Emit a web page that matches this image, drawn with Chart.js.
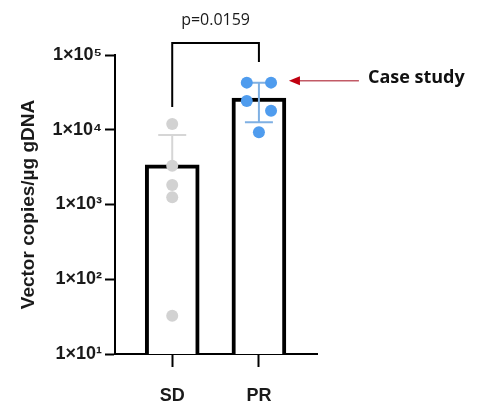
<!DOCTYPE html>
<html>
<head>
<meta charset="utf-8">
<script src="https://cdn.jsdelivr.net/npm/chart.js@4.4.1/dist/chart.umd.min.js"></script>
<style>
  html,body{margin:0;padding:0;background:#fff;}
  #wrap{position:relative;width:481px;height:407px;}
</style>
</head>
<body>
<div id="wrap"><canvas id="c"></canvas></div>
<script>
// ── Data ──────────────────────────────────────────────────────────────────
const groups      = ['SD', 'PR'];
const barMeans    = [3400, 26500];
const errHigh     = [8500, 42700];
const errLow      = [null, 12600];
const sdPoints    = [11900, 3300, 1820, 1250, 32.5];
const prPoints    = [42700, 42700, 24300, 18000, 9250];
const prJitter    = [-0.14, 0.14, -0.14, 0.14, 0];
const yTicks      = [10, 100, 1000, 10000, 100000];
const yTickLabels = ['1×10¹', '1×10²', '1×10³', '1×10⁴', '1×10⁵'];
const yTitle      = 'Vector copies/µg gDNA';
const pText       = 'p=0.0159';
const bracketTop  = 145000;   // bracket ends, in y units
const bracketLeft = 20100;
const bracketRight= 80500;
const noteText    = 'Case study';
const noteValue   = 42700;

// ── Style ─────────────────────────────────────────────────────────────────
const AX_FONT  = '"Liberation Sans", Arial, sans-serif';
const ERR_COL  = ['#D6D6D6', '#7FB0E3'];
const PT_COL   = ['#D2D2D2', '#4F9CEE'];

// ── Plugins ───────────────────────────────────────────────────────────────
const errorBars = {
  id: 'errorBars',
  afterDatasetDraw(chart, args) {
    if (args.index !== 0) return;
    const {ctx, scales: {x, y}} = chart;
    ctx.save();
    ctx.lineWidth = 2;
    groups.forEach((g, i) => {
      const px = x.getPixelForValue(i);
      const top = y.getPixelForValue(errHigh[i]);
      const bot = y.getPixelForValue(errLow[i] ?? barMeans[i]);
      ctx.strokeStyle = ERR_COL[i];
      ctx.beginPath();
      ctx.moveTo(px, bot); ctx.lineTo(px, top);
      ctx.moveTo(px - 14, top); ctx.lineTo(px + 14, top);
      if (errLow[i] != null) { ctx.moveTo(px - 14, bot); ctx.lineTo(px + 14, bot); }
      ctx.stroke();
    });
    ctx.restore();
  }
};

const notes = {
  id: 'notes',
  afterDraw(chart) {
    const {ctx, scales: {x, y}} = chart;
    const xL = x.getPixelForValue(0), xR = x.getPixelForValue(1);
    const yT = y.getPixelForValue(bracketTop);
    ctx.save();
    // significance bracket
    ctx.strokeStyle = '#000'; ctx.lineWidth = 2;
    ctx.beginPath();
    ctx.moveTo(xL, y.getPixelForValue(bracketLeft));
    ctx.lineTo(xL, yT); ctx.lineTo(xR, yT);
    ctx.lineTo(xR, y.getPixelForValue(bracketRight));
    ctx.stroke();
    ctx.fillStyle = '#1a1a1a';
    ctx.font = '16px "Open Sans", sans-serif';
    ctx.textAlign = 'center'; ctx.textBaseline = 'alphabetic';
    ctx.fillText(pText, (xL + xR) / 2, yT - 18);
    // arrow to case study
    const ay = y.getPixelForValue(noteValue) - 2;
    ctx.strokeStyle = '#C25A66'; ctx.lineWidth = 1.5;
    ctx.beginPath(); ctx.moveTo(xR + 100, ay); ctx.lineTo(xR + 38, ay); ctx.stroke();
    ctx.fillStyle = '#C00010';
    ctx.beginPath();
    ctx.moveTo(xR + 30, ay); ctx.lineTo(xR + 41, ay - 4.5); ctx.lineTo(xR + 41, ay + 4.5);
    ctx.closePath(); ctx.fill();
    ctx.fillStyle = '#111';
    ctx.font = 'bold 18px "Open Sans", sans-serif';
    ctx.textAlign = 'left';
    ctx.fillText(noteText, xR + 109, ay + 2);
    ctx.restore();
  }
};

// ── Chart ─────────────────────────────────────────────────────────────────
new Chart(document.getElementById('c'), {
  type: 'bar',
  data: {
    datasets: [
      { type: 'bar', order: 3,
        data: barMeans.map((v, i) => ({x: i, y: v})),
        backgroundColor: '#fff', borderColor: '#000', borderWidth: 4,
        barThickness: 54 },
      { type: 'scatter', order: 2, clip: false,
        data: sdPoints.map(v => ({x: 0, y: v})),
        pointRadius: 6, pointBackgroundColor: PT_COL[0], pointBorderWidth: 0 },
      { type: 'scatter', order: 1, clip: false,
        data: prPoints.map((v, i) => ({x: 1 + prJitter[i], y: v})),
        pointRadius: 6, pointBackgroundColor: PT_COL[1], pointBorderWidth: 0 }
    ]
  },
  options: {
    responsive: true, maintainAspectRatio: false, animation: false,
    layout: { padding: { top: 55, right: 164, left: 0, bottom: 0 } },
    plugins: { legend: {display: false}, tooltip: {enabled: false} },
    scales: {
      x: {
        type: 'linear', min: -0.66, max: 1.67, bounds: 'data', offset: false,
        afterBuildTicks: s => { s.ticks = groups.map((g, i) => ({value: i})); },
        afterFit: s => { s.height = 53; },
        border: {color: '#000', width: 2},
        grid: {drawOnChartArea: false, offset: false, color: '#000', tickLength: 13, tickWidth: 2},
        ticks: { color: '#1a1a1a', padding: 18, font: {family: AX_FONT, size: 18, weight: 'bold'},
                 callback: v => groups[v] }
      },
      y: {
        type: 'logarithmic', min: 10, max: 100000,
        afterBuildTicks: s => { s.ticks = yTicks.map(v => ({value: v})); },
        afterFit: s => { s.width = 115; },
        border: {color: '#000', width: 2},
        grid: {drawOnChartArea: false, color: '#000', tickLength: 10, tickWidth: 2},
        ticks: { color: '#1a1a1a', padding: 3, font: {family: AX_FONT, size: 18, weight: 'bold'},
                 callback: (v, i) => yTickLabels[i] },
        title: { display: true, text: yTitle, color: '#1a1a1a', padding: {top: 17, bottom: 0},
                 font: {family: AX_FONT, size: 19, weight: 'bold'} }
      }
    }
  },
  plugins: [errorBars, notes]
});
</script>
</body>
</html>
